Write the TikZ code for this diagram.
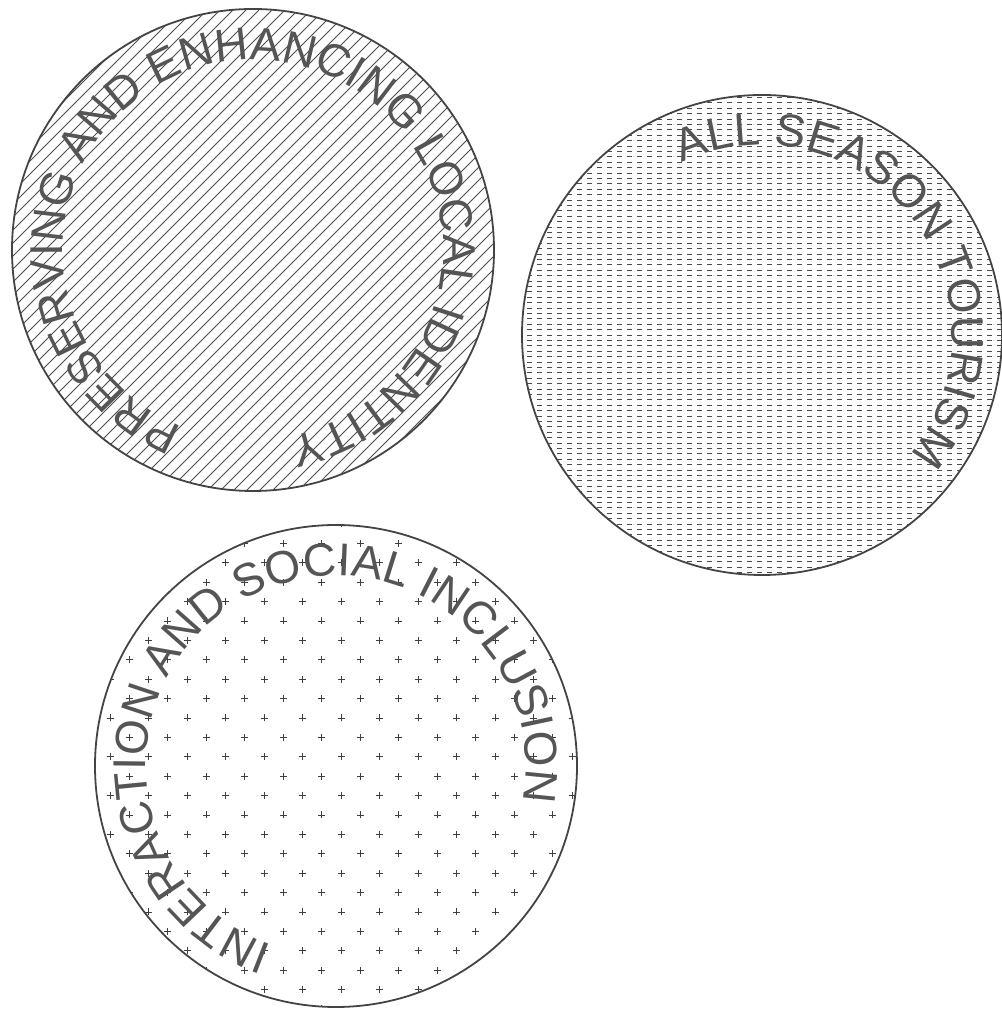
\documentclass[tikz,border=0pt]{standalone}
\usepackage{fontspec}
\newfontfamily\ringfont{Liberation Sans}
\usetikzlibrary{decorations.text,calc}
\definecolor{inkgray}{HTML}{444444}
\definecolor{txtgray}{HTML}{555555}

\begin{document}
\begin{tikzpicture}[x=1pt, y=1pt,
    ring/.style={draw=inkgray, line width=1.8pt},
    hatch/.style={draw=black!70, line width=0.8pt},
    dashrow/.style={draw=black!70, line width=0.9pt, dash pattern=on 4.5pt off 5.5pt},
    plusmark/.style={draw=black!75, line width=0.7pt},
    ringtext/.style={decorate, decoration={text along path, text align=center,
        text color=txtgray, text={|\ringfont\fontsize{46}{48}\selectfont|#1}}}]
    \useasboundingbox (0,0) rectangle (1001,1011);
    \coordinate (c1) at (253,761);
    \coordinate (c2) at (762,676);
    \coordinate (c3) at (336,245);

    % Identidad local: rayado diagonal
    \begin{scope}[shift={(c1)}]
        \clip (0,0) circle (241);
        \foreach \k in {-28,...,28}
            \draw[hatch] (\k*13-260,-260) -- ++(520,520);
    \end{scope}
    \draw[ring] (c1) circle (241);
    \path[ringtext={PRESERVING AND ENHANCING LOCAL IDENTITY}]
        ($(c1)+(263.5:190)$) arc[start angle=263.5, end angle=-94.5, radius=190];

    % Turismo: lineas discontinuas
    \begin{scope}[shift={(c2)}]
        \clip (0,0) circle (240);
        \foreach \k in {-45,...,45}
            \draw[dashrow] (-245,\k*5.4) -- (245,\k*5.4);
    \end{scope}
    \draw[ring] (c2) circle (240);
    \path[ringtext={ALL SEASON TOURISM}]
        ($(c2)+(158:190)$) arc[start angle=158, end angle=-82, radius=190];

    % Inclusion social: cruces
    \begin{scope}[shift={(c3)}]
        \clip (0,0) circle (241);
        \foreach \j in {-13,...,12} {
            \pgfmathsetmacro\off{mod(abs(\j),2)*19.25}
            \foreach \i in {-7,...,7}
                \draw[plusmark] ({\i*38.5+5+\off-3.5},{\j*19.4+9.3}) -- ++(7,0)
                    ({\i*38.5+5+\off},{\j*19.4+9.3-3.5}) -- ++(0,7);
        }
    \end{scope}
    \draw[ring] (c3) circle (241);
    \path[ringtext={INTERACTION AND SOCIAL INCLUSION}]
        ($(c3)+(290:190)$) arc[start angle=290, end angle=-50, radius=190];
\end{tikzpicture}
\end{document}
